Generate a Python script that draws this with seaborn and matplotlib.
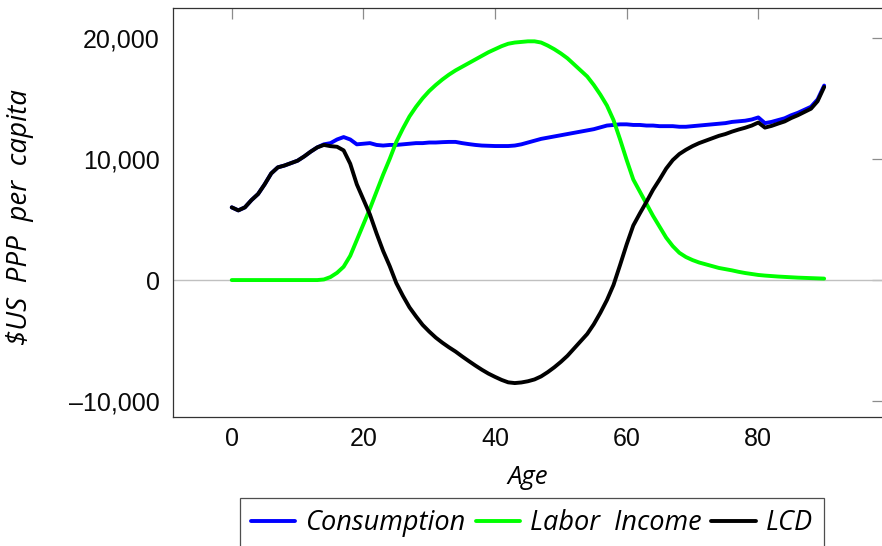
import numpy as np
import pandas as pd
import matplotlib
matplotlib.use("Agg")
import matplotlib.pyplot as plt
import seaborn as sns
from matplotlib.ticker import FuncFormatter

# Per-capita age profiles, single years of age 0..90 ($US PPP)
ages = list(range(0, 91))

consumption = [
    6000, 5750, 6000, 6600, 7100, 7900, 8800, 9300, 9450, 9650,
    9850, 10200, 10600, 10950, 11200, 11300, 11600, 11800, 11600, 11200,
    11250, 11300, 11150, 11100, 11150, 11150, 11200, 11250, 11300, 11300,
    11350, 11350, 11380, 11400, 11400, 11300, 11220, 11150, 11100, 11080,
    11060, 11060, 11060, 11100, 11200, 11350, 11500, 11650, 11750, 11850,
    11950, 12050, 12150, 12250, 12350, 12450, 12600, 12750, 12800, 12850,
    12850, 12800, 12800, 12750, 12750, 12700, 12700, 12700, 12650, 12650,
    12700, 12750, 12800, 12850, 12900, 12950, 13050, 13100, 13150, 13250,
    13420, 12950, 13050, 13200, 13350, 13600, 13800, 14050, 14300, 14900,
    16050,
]

labor_income = [
    0, 0, 0, 0, 0, 0, 0, 0, 0, 0,
    0, 0, 0, 0, 50, 250, 600, 1100, 2000, 3300,
    4600, 5900, 7300, 8700, 10000, 11400, 12500, 13500, 14300, 15000,
    15600, 16100, 16550, 16950, 17300, 17600, 17900, 18200, 18500, 18800,
    19050, 19300, 19500, 19600, 19650, 19700, 19700, 19600, 19350, 19050,
    18700, 18300, 17800, 17300, 16800, 16100, 15300, 14400, 13200, 11600,
    9900, 8300, 7300, 6300, 5300, 4400, 3500, 2800, 2250, 1900,
    1650, 1450, 1300, 1150, 1000, 900, 800, 680, 580, 500,
    420, 370, 330, 290, 260, 230, 200, 180, 160, 140,
    120,
]

series_names = ["Consumption", "Labor Income", "LCD"]
legend_labels = ["Consumption", "Labor  Income", "LCD"]
series_colors = ["#0000ff", "#00ff00", "#000000"]

x_ticks = [0, 20, 40, 60, 80]
y_ticks = [-10000, 0, 10000, 20000]

# Life-cycle deficit: consumption minus labor income
lcd = [c - y for c, y in zip(consumption, labor_income)]

df = pd.DataFrame({
    "Age": ages * 3,
    "value": consumption + labor_income + lcd,
    "series": (["Consumption"] * len(ages) + ["Labor Income"] * len(ages)
               + ["LCD"] * len(ages)),
})

sns.set_theme(style="white")
plt.rcParams["font.family"] = ["Liberation Sans", "DejaVu Sans"]
plt.rcParams["text.color"] = "black"
plt.rcParams["axes.labelcolor"] = "black"

fig = plt.figure(figsize=(8.82, 5.46), dpi=100)
ax = fig.add_axes([172.5 / 882, 129 / 546, (883.4 - 172.5) / 882, (538 - 129) / 546])

ax.axhline(0, color="#c0c0c0", lw=1.0, zorder=1)

sns.lineplot(
    data=df, x="Age", y="value", hue="series",
    hue_order=series_names, palette=dict(zip(series_names, series_colors)),
    linewidth=2.8, ax=ax, legend=False, zorder=3,
)

ax.set_xlim(-9, 99)
ax.set_ylim(-11300, 22450)
ax.set_xticks(x_ticks)
ax.set_yticks(y_ticks)
ax.yaxis.set_major_formatter(
    FuncFormatter(lambda v, p: f"{int(v):,}".replace("-", "\u2013")))

ax.tick_params(axis="both", which="major", direction="in", length=8,
               width=0.9, color="#8c8c8c", labelsize=18, pad=7,
               top=True, right=True, labelcolor="#0a0a0a")
ax.tick_params(axis="y", pad=9)
for s in ax.spines.values():
    s.set_color("#333333")
    s.set_linewidth(0.9)

ax.set_xlabel("Age", family=["Open Sans", "DejaVu Sans"], style="italic",
              size=18.5, labelpad=10, color="black")
ax.set_ylabel("$US  PPP  per  capita", family=["Open Sans", "DejaVu Sans"],
              style="italic", size=20, color="black")
ax.yaxis.set_label_coords((34 - 172.5) / 710.9, 0.49)

handles = [plt.Line2D([], [], color=c, lw=2.8) for c in series_colors]
leg = fig.legend(
    handles, legend_labels, loc="center", ncol=3,
    bbox_to_anchor=(532 / 882, 23 / 546), bbox_transform=fig.transFigure,
    frameon=True, fancybox=False, handlelength=1.63, handletextpad=0.37,
    columnspacing=0.37, borderpad=0.4, borderaxespad=0,
    prop=dict(family=["Open Sans", "DejaVu Sans"], style="italic", size=19.5),
    labelcolor="black",
)
leg.get_frame().set_edgecolor("#222222")
leg.get_frame().set_linewidth(0.9)

fig.savefig("out.png", dpi=100)
